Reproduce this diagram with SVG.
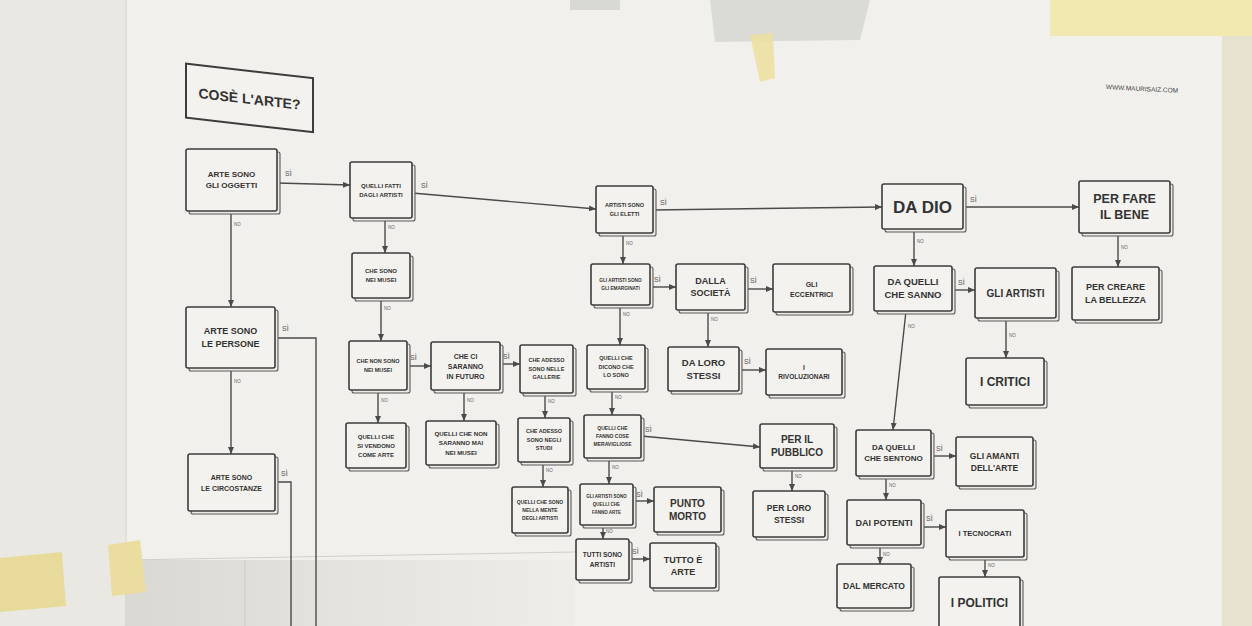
<svg xmlns="http://www.w3.org/2000/svg" width="1252" height="626" viewBox="0 0 1252 626">
<defs>
<style>
.box{fill:#f3f2ee;stroke:#3c3c3c;stroke-width:1.6}
.sh{fill:#eceae5;stroke:#5a5a5a;stroke-width:1.1}
.t{font-family:"Liberation Sans","DejaVu Sans",sans-serif;fill:#333;text-anchor:middle;font-weight:bold}
.c{fill:none;stroke:#4a4a4a;stroke-width:1.4}
.si{font-family:"Liberation Sans",sans-serif;font-size:7px;fill:#555}
.no{font-family:"Liberation Sans",sans-serif;font-size:4.5px;fill:#666}
</style>
<marker id="ah" markerUnits="userSpaceOnUse" markerWidth="7" markerHeight="6" refX="7" refY="3" orient="auto">
<path d="M0,0 L7,3 L0,6 z" fill="#4a4a4a"/>
</marker>
<linearGradient id="shade" x1="0" y1="0" x2="1" y2="0">
<stop offset="0" stop-color="#d9d8d3"/>
<stop offset="0.5" stop-color="#e4e3de"/>
<stop offset="1" stop-color="#eeede9"/>
</linearGradient>
</defs>

<!-- background: wall and poster -->
<rect x="0" y="0" width="1252" height="626" fill="#e9e8e3"/>
<rect x="125" y="0" width="1100" height="626" fill="#f1f0ec"/>
<rect x="1222" y="0" width="30" height="626" fill="#e7e1cf"/>
<rect x="125" y="560" width="450" height="66" fill="url(#shade)"/>
<line x1="125" y1="560" x2="575" y2="552" stroke="#d0cfca" stroke-width="1"/>
<line x1="126" y1="0" x2="126" y2="560" stroke="#dcdbd6" stroke-width="1.5"/>
<line x1="245" y1="560" x2="245" y2="626" stroke="#c9c8c3" stroke-width="1"/>
<rect x="570" y="0" width="50" height="10" fill="#d8d8d4"/>
<polygon points="710,0 870,0 860,40 715,42" fill="#dadad6"/>
<rect x="1050" y="0" width="202" height="36" fill="#f2e9b0"/>
<polygon points="750,35 773,33 775,78 760,82" fill="#eddfa0" opacity="0.85"/>
<polygon points="0,558 62,552 66,606 0,612" fill="#e8da9b"/>
<polygon points="108,545 140,540 146,592 112,596" fill="#eadd9f"/>

<!-- title and url -->
<g id="title" transform="translate(250,98) skewY(6.5) translate(-250,-98)">
<rect class="box" x="186" y="71" width="127" height="54" style="stroke-width:2"/>
<text class="t" x="249.5" y="104" font-size="14">COSÈ L'ARTE?</text>
</g>
<text id="url" x="1142" y="91" font-family="Liberation Sans, sans-serif" font-size="6.5" fill="#444" text-anchor="middle" transform="rotate(3 1142 89)">WWW.MAURISAIZ.COM</text>

<!-- connectors -->
<g id="connectors">
<path class="c" d="M277,183 L350,185" marker-end="url(#ah)"/>
<path class="c" d="M231,211 V307" marker-end="url(#ah)"/>
<path class="c" d="M231,368 V454" marker-end="url(#ah)"/>
<path class="c" d="M412,193 L596,209" marker-end="url(#ah)"/>
<path class="c" d="M385,218 V253" marker-end="url(#ah)"/>
<path class="c" d="M381,298 V341" marker-end="url(#ah)"/>
<path class="c" d="M407,366 H431" marker-end="url(#ah)"/>
<path class="c" d="M378,390 V423" marker-end="url(#ah)"/>
<path class="c" d="M500,364 H520" marker-end="url(#ah)"/>
<path class="c" d="M464,390 V421" marker-end="url(#ah)"/>
<path class="c" d="M545,393 V418" marker-end="url(#ah)"/>
<path class="c" d="M543,462 V487" marker-end="url(#ah)"/>
<path class="c" d="M623,233 V264" marker-end="url(#ah)"/>
<path class="c" d="M653,210 L882,207" marker-end="url(#ah)"/>
<path class="c" d="M650,287 H676" marker-end="url(#ah)"/>
<path class="c" d="M745,289 H773" marker-end="url(#ah)"/>
<path class="c" d="M708,310 V347" marker-end="url(#ah)"/>
<path class="c" d="M739,370 H766" marker-end="url(#ah)"/>
<path class="c" d="M620,305 V345" marker-end="url(#ah)"/>
<path class="c" d="M612,389 V415" marker-end="url(#ah)"/>
<path class="c" d="M641,436 L760,447" marker-end="url(#ah)"/>
<path class="c" d="M609,458 V484" marker-end="url(#ah)"/>
<path class="c" d="M792,468 V491" marker-end="url(#ah)"/>
<path class="c" d="M633,501 H654" marker-end="url(#ah)"/>
<path class="c" d="M603,525 V539" marker-end="url(#ah)"/>
<path class="c" d="M629,559 H650" marker-end="url(#ah)"/>
<path class="c" d="M963,207 H1079" marker-end="url(#ah)"/>
<path class="c" d="M914,229 V266" marker-end="url(#ah)"/>
<path class="c" d="M1118,233 V267" marker-end="url(#ah)"/>
<path class="c" d="M952,290 H975" marker-end="url(#ah)"/>
<path class="c" d="M906,311 L893,430" marker-end="url(#ah)"/>
<path class="c" d="M1006,318 V358" marker-end="url(#ah)"/>
<path class="c" d="M931,456 H956" marker-end="url(#ah)"/>
<path class="c" d="M886,476 V500" marker-end="url(#ah)"/>
<path class="c" d="M921,527 H946" marker-end="url(#ah)"/>
<path class="c" d="M880,545 V564" marker-end="url(#ah)"/>
<path class="c" d="M985,557 V577" marker-end="url(#ah)"/>
<path class="c" d="M275,338 H316 V626"/>
<path class="c" d="M275,482 H291 V626"/>

<text class="si" x="285" y="176">SÌ</text>
<text class="si" x="421" y="188">SÌ</text>
<text class="si" x="410" y="360">SÌ</text>
<text class="si" x="503" y="359">SÌ</text>
<text class="si" x="660" y="205">SÌ</text>
<text class="si" x="654" y="282">SÌ</text>
<text class="si" x="750" y="283">SÌ</text>
<text class="si" x="744" y="364">SÌ</text>
<text class="si" x="645" y="432">SÌ</text>
<text class="si" x="636" y="497">SÌ</text>
<text class="si" x="632" y="554">SÌ</text>
<text class="si" x="970" y="202">SÌ</text>
<text class="si" x="958" y="285">SÌ</text>
<text class="si" x="936" y="451">SÌ</text>
<text class="si" x="926" y="521">SÌ</text>
<text class="si" x="282" y="331">SÌ</text>
<text class="si" x="281" y="476">SÌ</text>

<text class="no" x="234" y="226">NO</text>
<text class="no" x="234" y="383">NO</text>
<text class="no" x="388" y="229">NO</text>
<text class="no" x="384" y="310">NO</text>
<text class="no" x="381" y="402">NO</text>
<text class="no" x="467" y="402">NO</text>
<text class="no" x="548" y="403">NO</text>
<text class="no" x="546" y="472">NO</text>
<text class="no" x="626" y="245">NO</text>
<text class="no" x="711" y="321">NO</text>
<text class="no" x="623" y="316">NO</text>
<text class="no" x="615" y="399">NO</text>
<text class="no" x="612" y="469">NO</text>
<text class="no" x="795" y="478">NO</text>
<text class="no" x="606" y="533">NO</text>
<text class="no" x="917" y="243">NO</text>
<text class="no" x="1121" y="249">NO</text>
<text class="no" x="908" y="328">NO</text>
<text class="no" x="1009" y="337">NO</text>
<text class="no" x="889" y="487">NO</text>
<text class="no" x="883" y="556">NO</text>
<text class="no" x="988" y="567">NO</text>
</g>

<!-- nodes -->
<g id="n-oggetti"><rect class="sh" x="189" y="152" width="91" height="62" rx="2"/><rect class="box" x="186" y="149" width="91" height="62" rx="2"/><text class="t" font-size="8"><tspan x="231.5" y="177.3">ARTE SONO</tspan><tspan x="231.5" y="188.3">GLI OGGETTI</tspan></text></g>

<g id="n-fatti"><rect class="sh" x="353" y="165" width="62" height="56" rx="2"/><rect class="box" x="350" y="162" width="62" height="56" rx="2"/><text class="t" font-size="6"><tspan x="381" y="187.6">QUELLI FATTI</tspan><tspan x="381" y="196.6">DAGLI ARTISTI</tspan></text></g>

<g id="n-musei"><rect class="sh" x="355" y="256" width="58" height="45" rx="2"/><rect class="box" x="352" y="253" width="58" height="45" rx="2"/><text class="t" font-size="6"><tspan x="381" y="273.1">CHE SONO</tspan><tspan x="381" y="282.1">NEI MUSEI</tspan></text></g>

<g id="n-non-musei"><rect class="sh" x="352" y="344" width="58" height="49" rx="2"/><rect class="box" x="349" y="341" width="58" height="49" rx="2"/><text class="t" font-size="5.5"><tspan x="378" y="363">CHE NON SONO</tspan><tspan x="378" y="372">NEI MUSEI</tspan></text></g>

<g id="n-futuro"><rect class="sh" x="434" y="345" width="69" height="48" rx="2"/><rect class="box" x="431" y="342" width="69" height="48" rx="2"/><text class="t" font-size="7"><tspan x="465.5" y="358.5">CHE CI</tspan><tspan x="465.5" y="368.5">SARANNO</tspan><tspan x="465.5" y="378.5">IN FUTURO</tspan></text></g>

<g id="n-gallerie"><rect class="sh" x="523" y="348" width="53" height="48" rx="2"/><rect class="box" x="520" y="345" width="53" height="48" rx="2"/><text class="t" font-size="5.5"><tspan x="546.5" y="362.4">CHE ADESSO</tspan><tspan x="546.5" y="370.9">SONO NELLE</tspan><tspan x="546.5" y="379.4">GALLERIE</tspan></text></g>

<g id="n-vendono"><rect class="sh" x="349" y="426" width="60" height="45" rx="2"/><rect class="box" x="346" y="423" width="60" height="45" rx="2"/><text class="t" font-size="6"><tspan x="376" y="438.6">QUELLI CHE</tspan><tspan x="376" y="447.6">SI VENDONO</tspan><tspan x="376" y="456.6">COME ARTE</tspan></text></g>

<g id="n-mai"><rect class="sh" x="429" y="424" width="70" height="44" rx="2"/><rect class="box" x="426" y="421" width="70" height="44" rx="2"/><text class="t" font-size="6.2"><tspan x="461" y="435.8">QUELLI CHE NON</tspan><tspan x="461" y="445.3">SARANNO MAI</tspan><tspan x="461" y="454.8">NEI MUSEI</tspan></text></g>

<g id="n-studi"><rect class="sh" x="521" y="421" width="52" height="44" rx="2"/><rect class="box" x="518" y="418" width="52" height="44" rx="2"/><text class="t" font-size="5.5"><tspan x="544" y="433.4">CHE ADESSO</tspan><tspan x="544" y="441.9">SONO NEGLI</tspan><tspan x="544" y="450.4">STUDI</tspan></text></g>

<g id="n-mente"><rect class="sh" x="515" y="490" width="56" height="46" rx="2"/><rect class="box" x="512" y="487" width="56" height="46" rx="2"/><text class="t" font-size="5"><tspan x="540" y="503.8">QUELLI CHE SONO</tspan><tspan x="540" y="511.8">NELLA MENTE</tspan><tspan x="540" y="519.8">DEGLI ARTISTI</tspan></text></g>

<g id="n-persone"><rect class="sh" x="189" y="310" width="89" height="61" rx="2"/><rect class="box" x="186" y="307" width="89" height="61" rx="2"/><text class="t" font-size="9"><tspan x="230.5" y="334.2">ARTE SONO</tspan><tspan x="230.5" y="347.2">LE PERSONE</tspan></text></g>

<g id="n-circostanze"><rect class="sh" x="191" y="457" width="87" height="57" rx="2"/><rect class="box" x="188" y="454" width="87" height="57" rx="2"/><text class="t" font-size="7"><tspan x="231.5" y="479.5">ARTE SONO</tspan><tspan x="231.5" y="490.5">LE CIRCOSTANZE</tspan></text></g>

<g id="n-eletti"><rect class="sh" x="599" y="189" width="57" height="47" rx="2"/><rect class="box" x="596" y="186" width="57" height="47" rx="2"/><text class="t" font-size="5.5"><tspan x="624.5" y="207">ARTISTI SONO</tspan><tspan x="624.5" y="216">GLI ELETTI</tspan></text></g>

<g id="n-emarginati"><rect class="sh" x="594" y="267" width="59" height="41" rx="2"/><rect class="box" x="591" y="264" width="59" height="41" rx="2"/><text class="t" font-size="4.7"><tspan x="620.5" y="282.2">GLI ARTISTI SONO</tspan><tspan x="620.5" y="290.2">GLI EMARGINATI</tspan></text></g>

<g id="n-societa"><rect class="sh" x="679" y="267" width="69" height="46" rx="2"/><rect class="box" x="676" y="264" width="69" height="46" rx="2"/><text class="t" font-size="9"><tspan x="710.5" y="284.2">DALLA</tspan><tspan x="710.5" y="296.2">SOCIETÀ</tspan></text></g>

<g id="n-eccentrici"><rect class="sh" x="776" y="267" width="77" height="48" rx="2"/><rect class="box" x="773" y="264" width="77" height="48" rx="2"/><text class="t" font-size="7"><tspan x="811.5" y="286.5">GLI</tspan><tspan x="811.5" y="296.5">ECCENTRICI</tspan></text></g>

<g id="n-dicono"><rect class="sh" x="590" y="348" width="58" height="44" rx="2"/><rect class="box" x="587" y="345" width="58" height="44" rx="2"/><text class="t" font-size="5.5"><tspan x="616" y="360.4">QUELLI CHE</tspan><tspan x="616" y="368.9">DICONO CHE</tspan><tspan x="616" y="377.4">LO SONO</tspan></text></g>

<g id="n-stessi"><rect class="sh" x="671" y="350" width="71" height="44" rx="2"/><rect class="box" x="668" y="347" width="71" height="44" rx="2"/><text class="t" font-size="9.5"><tspan x="703.5" y="366.1">DA LORO</tspan><tspan x="703.5" y="378.6">STESSI</tspan></text></g>

<g id="n-rivoluzionari"><rect class="sh" x="769" y="352" width="76" height="46" rx="2"/><rect class="box" x="766" y="349" width="76" height="46" rx="2"/><text class="t" font-size="6.5"><tspan x="804" y="369.8">I</tspan><tspan x="804" y="378.8">RIVOLUZIONARI</tspan></text></g>

<g id="n-meravigliose"><rect class="sh" x="587" y="418" width="57" height="43" rx="2"/><rect class="box" x="584" y="415" width="57" height="43" rx="2"/><text class="t" font-size="5"><tspan x="612.5" y="430.3">QUELLI CHE</tspan><tspan x="612.5" y="438.3">FANNO COSE</tspan><tspan x="612.5" y="446.3">MERAVIGLIOSE</tspan></text></g>

<g id="n-pubblico"><rect class="sh" x="763" y="427" width="74" height="44" rx="2"/><rect class="box" x="760" y="424" width="74" height="44" rx="2"/><text class="t" font-size="10"><tspan x="797" y="443">PER IL</tspan><tspan x="797" y="456">PUBBLICO</tspan></text></g>

<g id="n-loro-stessi"><rect class="sh" x="756" y="494" width="72" height="46" rx="2"/><rect class="box" x="753" y="491" width="72" height="46" rx="2"/><text class="t" font-size="8.5"><tspan x="789" y="511.2">PER LORO</tspan><tspan x="789" y="522.7">STESSI</tspan></text></g>

<g id="n-fanno-arte"><rect class="sh" x="583" y="487" width="53" height="41" rx="2"/><rect class="box" x="580" y="484" width="53" height="41" rx="2"/><text class="t" font-size="4.5"><tspan x="606.5" y="498.2">GLI ARTISTI SONO</tspan><tspan x="606.5" y="506.2">QUELLI CHE</tspan><tspan x="606.5" y="514.2">FANNO ARTE</tspan></text></g>

<g id="n-punto-morto"><rect class="sh" x="657" y="490" width="67" height="45" rx="2"/><rect class="box" x="654" y="487" width="67" height="45" rx="2"/><text class="t" font-size="10"><tspan x="687.5" y="506.5">PUNTO</tspan><tspan x="687.5" y="519.5">MORTO</tspan></text></g>

<g id="n-tutti"><rect class="sh" x="579" y="542" width="53" height="41" rx="2"/><rect class="box" x="576" y="539" width="53" height="41" rx="2"/><text class="t" font-size="6.5"><tspan x="602.5" y="557">TUTTI SONO</tspan><tspan x="602.5" y="566.5">ARTISTI</tspan></text></g>

<g id="n-tutto"><rect class="sh" x="653" y="546" width="66" height="45" rx="2"/><rect class="box" x="650" y="543" width="66" height="45" rx="2"/><text class="t" font-size="9"><tspan x="683" y="562.6">TUTTO È</tspan><tspan x="683" y="574.6">ARTE</tspan></text></g>

<g id="n-dio"><rect class="sh" x="885" y="187" width="81" height="45" rx="2"/><rect class="box" x="882" y="184" width="81" height="45" rx="2"/><text class="t" x="922.5" y="212.5" font-size="17">DA DIO</text></g>

<g id="n-bene"><rect class="sh" x="1082" y="184" width="91" height="52" rx="2"/><rect class="box" x="1079" y="181" width="91" height="52" rx="2"/><text class="t" font-size="12.5"><tspan x="1124.5" y="203.4">PER FARE</tspan><tspan x="1124.5" y="219.4">IL BENE</tspan></text></g>

<g id="n-bellezza"><rect class="sh" x="1075" y="270" width="87" height="53" rx="2"/><rect class="box" x="1072" y="267" width="87" height="53" rx="2"/><text class="t" font-size="9"><tspan x="1115.5" y="290.2">PER CREARE</tspan><tspan x="1115.5" y="303.2">LA BELLEZZA</tspan></text></g>

<g id="n-sanno"><rect class="sh" x="877" y="269" width="78" height="45" rx="2"/><rect class="box" x="874" y="266" width="78" height="45" rx="2"/><text class="t" font-size="9.5"><tspan x="913" y="285.3">DA QUELLI</tspan><tspan x="913" y="298.3">CHE SANNO</tspan></text></g>

<g id="n-gli-artisti"><rect class="sh" x="978" y="271" width="81" height="50" rx="2"/><rect class="box" x="975" y="268" width="81" height="50" rx="2"/><text class="t" x="1015.5" y="296.5" font-size="10">GLI ARTISTI</text></g>

<g id="n-critici"><rect class="sh" x="969" y="361" width="78" height="47" rx="2"/><rect class="box" x="966" y="358" width="78" height="47" rx="2"/><text class="t" x="1005" y="385.7" font-size="12">I CRITICI</text></g>

<g id="n-sentono"><rect class="sh" x="859" y="433" width="75" height="46" rx="2"/><rect class="box" x="856" y="430" width="75" height="46" rx="2"/><text class="t" font-size="8"><tspan x="893.5" y="450.3">DA QUELLI</tspan><tspan x="893.5" y="461.3">CHE SENTONO</tspan></text></g>

<g id="n-amanti"><rect class="sh" x="959" y="440" width="77" height="49" rx="2"/><rect class="box" x="956" y="437" width="77" height="49" rx="2"/><text class="t" font-size="8.5"><tspan x="994.5" y="458.5">GLI AMANTI</tspan><tspan x="994.5" y="470.5">DELL'ARTE</tspan></text></g>

<g id="n-potenti"><rect class="sh" x="850" y="503" width="74" height="45" rx="2"/><rect class="box" x="847" y="500" width="74" height="45" rx="2"/><text class="t" x="884" y="525.6" font-size="9">DAI POTENTI</text></g>

<g id="n-tecnocrati"><rect class="sh" x="949" y="513" width="78" height="47" rx="2"/><rect class="box" x="946" y="510" width="78" height="47" rx="2"/><text class="t" x="985" y="536.1" font-size="7.5">I TECNOCRATI</text></g>

<g id="n-mercato"><rect class="sh" x="840" y="567" width="74" height="44" rx="2"/><rect class="box" x="837" y="564" width="74" height="44" rx="2"/><text class="t" x="874" y="589" font-size="8.5">DAL MERCATO</text></g>

<g id="n-politici"><rect class="sh" x="942" y="580" width="81" height="52" rx="2"/><rect class="box" x="939" y="577" width="81" height="52" rx="2"/><text class="t" x="979.5" y="607.2" font-size="12">I POLITICI</text></g>
</svg>
